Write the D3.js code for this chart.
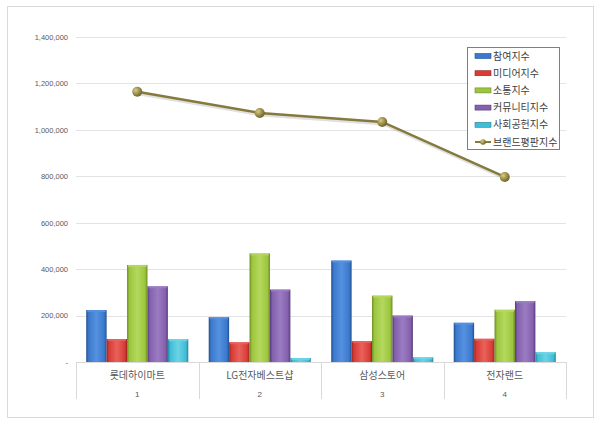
<!DOCTYPE html>
<html>
<head>
<meta charset="utf-8">
<script src="https://cdn.jsdelivr.net/npm/d3@7"></script>
<style>
  body { margin: 0; background: #fff; }
  text { font-family: "Liberation Sans", Arial, sans-serif; }
  .kr { font-family: "Noto Sans CJK KR", sans-serif; }
</style>
</head>
<body>
<script>
var categories = ['롯데하이마트', 'LG전자베스트샵', '삼성스토어', '전자랜드'];
var categoryNums = ['1', '2', '3', '4'];
var seriesNames = ['참여지수', '미디어지수', '소통지수', '커뮤니티지수', '사회공헌지수'];
var participation = [224000, 193000, 437000, 169000];
var media = [99000, 85000, 90000, 100000];
var communication = [418000, 468000, 286000, 225000];
var community = [326000, 312000, 200000, 262000];
var social = [98000, 17000, 20000, 42000];
var brandName = '브랜드평판지수';
var brand = [1164000, 1073000, 1034000, 797000];
var yTicks = [0, 200000, 400000, 600000, 800000, 1000000, 1200000, 1400000];

var seriesValues = [participation, media, communication, community, social];
// base, dark edge, light centre
var palette = [
  ['#3b79cc', '#22508f', '#5591e0'],
  ['#d93c36', '#9c2420', '#e8625b'],
  ['#9cc63e', '#6b8c22', '#b4d85e'],
  ['#8460ad', '#573a7c', '#9a7cc2'],
  ['#3fbdd6', '#25869c', '#6bd3e6']
];

var width = 600, height = 425;
var svg = d3.select('body').append('svg')
    .attr('width', width)
    .attr('height', height);

var defs = svg.append('defs');
palette.forEach(function(c, i) {
  var g = defs.append('linearGradient').attr('id', 'bar' + i)
      .attr('x1', '0').attr('x2', '1').attr('y1', '0').attr('y2', '0');
  g.append('stop').attr('offset', '0').attr('stop-color', c[1]);
  g.append('stop').attr('offset', '0.12').attr('stop-color', c[0]);
  g.append('stop').attr('offset', '0.5').attr('stop-color', c[2]);
  g.append('stop').attr('offset', '0.88').attr('stop-color', c[0]);
  g.append('stop').attr('offset', '1').attr('stop-color', c[1]);
});
var mg = defs.append('radialGradient').attr('id', 'marker')
    .attr('cx', '0.35').attr('cy', '0.35').attr('r', '0.7');
mg.append('stop').attr('offset', '0').attr('stop-color', '#d8cc88');
mg.append('stop').attr('offset', '0.6').attr('stop-color', '#958845');
mg.append('stop').attr('offset', '1').attr('stop-color', '#6c6128');

// outer frame
svg.append('rect')
    .attr('x', 7.5).attr('y', 6.5)
    .attr('width', 586).attr('height', 411)
    .attr('fill', '#fff')
    .attr('stroke', '#d9d9d9');

var plot = {left: 76, right: 566, top: 37, bottom: 362};

var x = d3.scaleBand().domain(categories).range([plot.left, plot.right]);
var x1 = d3.scaleBand().domain(seriesNames).range([0, x.bandwidth()])
    .paddingInner(0).paddingOuter(0.5);
var y = d3.scaleLinear().domain([0, 1400000]).range([plot.bottom, plot.top]);

// gridlines
svg.append('g').selectAll('line')
    .data(yTicks.filter(function(d) { return d > 0; }))
    .enter().append('line')
    .attr('x1', plot.left).attr('x2', plot.right)
    .attr('y1', function(d) { return Math.round(y(d)) + 0.5; })
    .attr('y2', function(d) { return Math.round(y(d)) + 0.5; })
    .attr('stroke', '#e3e3e3');

// y axis
var yAxis = svg.append('g')
    .attr('transform', 'translate(' + plot.left + ',0)')
    .call(d3.axisLeft(y).tickValues(yTicks).tickSize(0).tickPadding(8)
      .tickFormat(function(d) { return d === 0 ? '-' : d3.format(',')(d); }));
yAxis.select('.domain').remove();
yAxis.selectAll('text').attr('fill', '#595959').style('font-size', '7.5px')
    .style('font-family', '"Liberation Sans", Arial, sans-serif');

// category axis box
var axisG = svg.append('g');
axisG.append('line')
    .attr('x1', plot.left).attr('x2', plot.right)
    .attr('y1', plot.bottom + 0.5).attr('y2', plot.bottom + 0.5)
    .attr('stroke', '#d9d9d9');
var edges = categories.map(function(c) { return x(c); }).concat([plot.right]);
axisG.selectAll('.sep').data(edges).enter().append('line')
    .attr('x1', function(d) { return Math.round(d) + 0.5; })
    .attr('x2', function(d) { return Math.round(d) + 0.5; })
    .attr('y1', plot.bottom).attr('y2', 399)
    .attr('stroke', '#d9d9d9');
axisG.selectAll('.cat').data(categories).enter().append('text')
    .attr('class', 'kr')
    .attr('x', function(d) { return x(d) + x.bandwidth() / 2; })
    .attr('y', 379)
    .attr('text-anchor', 'middle')
    .attr('fill', '#595959')
    .style('font-size', '10px')
    .text(function(d) { return d; });
axisG.selectAll('.num').data(categoryNums).enter().append('text')
    .attr('x', function(d, i) { return x(categories[i]) + x.bandwidth() / 2; })
    .attr('y', 397)
    .attr('text-anchor', 'middle')
    .attr('fill', '#595959')
    .style('font-size', '8px')
    .text(function(d) { return d; });

// bars
seriesValues.forEach(function(vals, si) {
  var g = svg.append('g');
  g.selectAll('rect.bar').data(vals).enter().append('rect')
      .attr('x', function(d, i) { return x(categories[i]) + x1(seriesNames[si]); })
      .attr('y', function(d) { return y(d); })
      .attr('width', x1.bandwidth())
      .attr('height', function(d) { return plot.bottom - y(d); })
      .attr('fill', 'url(#bar' + si + ')');
  g.selectAll('rect.cap').data(vals).enter().append('rect')
      .attr('x', function(d, i) { return x(categories[i]) + x1(seriesNames[si]) + 1; })
      .attr('y', function(d) { return y(d); })
      .attr('width', x1.bandwidth() - 2)
      .attr('height', 2)
      .attr('fill', palette[si][2])
      .attr('opacity', 0.9);
});

// brand line
var lineX = function(d, i) { return x(categories[i]) + x.bandwidth() / 2; };
var line = d3.line().x(lineX).y(function(d) { return y(d); });
svg.append('path').datum(brand)
    .attr('d', line)
    .attr('transform', 'translate(1,2)')
    .attr('fill', 'none')
    .attr('stroke', '#000')
    .attr('stroke-opacity', 0.12)
    .attr('stroke-width', 3);
svg.append('path').datum(brand)
    .attr('d', line)
    .attr('fill', 'none')
    .attr('stroke', '#857a3c')
    .attr('stroke-width', 2.5);
svg.selectAll('circle.pt').data(brand).enter().append('circle')
    .attr('cx', lineX)
    .attr('cy', function(d) { return y(d); })
    .attr('r', 5)
    .attr('fill', 'url(#marker)');

// legend
var legend = svg.append('g');
legend.append('rect')
    .attr('x', 467.5).attr('y', 47.5)
    .attr('width', 92).attr('height', 102)
    .attr('fill', '#fff')
    .attr('stroke', '#7f7f7f');
var legendNames = seriesNames.concat([brandName]);
var ly = d3.scalePoint().domain(legendNames).range([56, 142]);
legendNames.forEach(function(name, i) {
  var yy = ly(name);
  if (i < seriesNames.length) {
    legend.append('rect')
        .attr('x', 475).attr('y', yy - 2.5)
        .attr('width', 16).attr('height', 5)
        .attr('fill', palette[i][0])
        .attr('stroke', palette[i][1])
        .attr('stroke-width', 0.6);
  } else {
    legend.append('line')
        .attr('x1', 475).attr('x2', 491)
        .attr('y1', yy).attr('y2', yy)
        .attr('stroke', '#857a3c').attr('stroke-width', 2);
    legend.append('circle')
        .attr('cx', 483).attr('cy', yy).attr('r', 2.8)
        .attr('fill', 'url(#marker)');
  }
  legend.append('text')
      .attr('class', 'kr')
      .attr('x', 493).attr('y', yy + 3.5)
      .attr('fill', '#404040')
      .style('font-size', '10px')
      .text(name);
});
</script>
</body>
</html>
